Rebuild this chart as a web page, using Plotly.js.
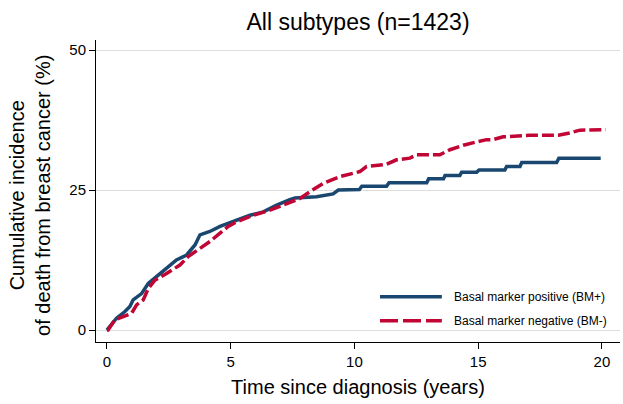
<!DOCTYPE html>
<html>
<head>
<meta charset="utf-8">
<script src="https://cdn.plot.ly/plotly-3.0.1.min.js"></script>
<style>html,body{margin:0;padding:0;background:#fff}</style>
</head>
<body>
<div id="chart" style="width:623px;height:404px"></div>
<script>
// BM+ (basal marker positive): cumulative incidence (%) vs years
var posYears = [0, 0.05, 0.39, 0.73, 0.93, 1.06, 1.4, 1.67, 2.0, 2.41, 2.81, 3.22, 3.56, 3.76, 4.16, 4.57, 5.1, 5.78, 6.32, 6.86, 7.39, 7.6, 8.47, 9.14, 9.35, 10.2, 10.3, 11.3, 11.4, 12.92, 13.0, 13.6, 13.66, 14.26, 14.33, 14.94, 15.04, 16.08, 16.15, 16.69, 16.76, 18.17, 18.26, 19.95];
var posCum   = [0, 0.3, 2.1, 3.3, 4.2, 5.4, 6.5, 8.3, 9.5, 11.0, 12.5, 13.4, 15.2, 17.0, 17.6, 18.5, 19.4, 20.5, 21.1, 22.3, 23.3, 23.6, 23.8, 24.3, 25.0, 25.1, 25.7, 25.7, 26.3, 26.3, 27.0, 27.0, 27.6, 27.6, 28.2, 28.2, 28.6, 28.6, 29.2, 29.2, 29.9, 29.9, 30.7, 30.7];
// BM- (basal marker negative)
var negYears = [0, 0.05, 0.32, 0.66, 1.0, 1.2, 1.47, 1.67, 1.94, 2.41, 2.95, 3.28, 3.69, 4.16, 4.57, 4.9, 5.24, 5.91, 6.59, 7.26, 7.8, 8.2, 8.74, 9.41, 9.95, 10.22, 10.49, 11.3, 11.7, 12.24, 12.51, 13.45, 13.86, 14.4, 14.94, 15.34, 15.6, 16.01, 17.09, 18.24, 18.7, 19.11, 20.15];
var negCum   = [0, 0.0, 1.8, 2.4, 3.0, 4.5, 5.4, 7.4, 8.9, 10.1, 11.6, 13.1, 14.3, 15.8, 17.3, 18.5, 19.3, 20.5, 21.4, 22.6, 23.5, 24.7, 26.2, 27.4, 28.0, 28.3, 29.2, 29.6, 30.4, 30.7, 31.3, 31.3, 32.2, 33.0, 33.6, 34.0, 34.0, 34.5, 34.8, 34.8, 35.2, 35.7, 35.8];
var xTicks = [0, 5, 10, 15, 20];
var yTicks = [0, 25, 50];
var seriesNames = ["Basal marker positive (BM+)", "Basal marker negative (BM-)"];
var seriesColors = ["#1a476f", "#c10534"];

var font = "Liberation Sans, Arial, sans-serif";
var traces = [
  {x: posYears, y: posCum, type: "scatter", mode: "lines", name: seriesNames[0], showlegend: false,
   line: {color: seriesColors[0], width: 3.5, shape: "linear"}},
  {x: negYears, y: negCum, type: "scatter", mode: "lines", name: seriesNames[1], showlegend: false,
   line: {color: seriesColors[1], width: 3.5, shape: "linear", dash: "12px,4px"}}
];

// legend drawn as key lines + labels (paper coordinates)
var legY = [0.150, 0.0705];
var shapes = [0, 1].map(function (i) {
  return {type: "line", xref: "paper", yref: "paper", x0: 0.542, x1: 0.660, y0: legY[i], y1: legY[i],
          line: {color: seriesColors[i], width: 3.5, dash: i === 1 ? "18px,5px" : "solid"}};
});
var annotations = [0, 1].map(function (i) {
  return {xref: "paper", yref: "paper", x: 0.679, y: legY[i], xanchor: "left", yanchor: "middle",
          text: seriesNames[i], showarrow: false, font: {size: 12, family: font, color: "#000"}};
});
// y-axis title placed as rotated text
annotations.push({xref: "paper", yref: "paper", x: -0.126, y: 0.487, xanchor: "center", yanchor: "middle",
  textangle: -90, showarrow: false, text: "Cumulative incidence<br>of death from breast cancer (%)",
  font: {size: 20, family: font, color: "#000"}});

var layout = {
  width: 623, height: 404,
  margin: {l: 96, r: 3, t: 40, b: 62},
  paper_bgcolor: "#fff", plot_bgcolor: "#fff",
  font: {family: font, color: "#000"},
  title: {text: "All subtypes (n=1423)", font: {size: 23, family: font, color: "#000"},
          x: 0.5, xref: "paper", xanchor: "center", y: 0.946, yref: "container", yanchor: "middle"},
  xaxis: {range: [-0.44, 20.73], tickvals: xTicks, ticks: "outside", ticklen: 6, tickwidth: 1,
          tickcolor: "#000", showline: true, linecolor: "#000", linewidth: 1, showgrid: false,
          zeroline: false, tickfont: {size: 15, family: font},
          title: {text: "Time since diagnosis (years)", font: {size: 20, family: font}, standoff: 10}},
  yaxis: {range: [-2.14, 51.8], tickvals: yTicks, ticks: "outside", ticklen: 6, tickwidth: 1,
          tickcolor: "#000", showline: true, linecolor: "#000", linewidth: 1, showgrid: true,
          gridcolor: "#dddddd", gridwidth: 1, zeroline: false, tickfont: {size: 15, family: font}},
  showlegend: false,
  shapes: shapes,
  annotations: annotations
};
Plotly.newPlot("chart", traces, layout, {displayModeBar: false, staticPlot: true});
</script>
</body>
</html>
